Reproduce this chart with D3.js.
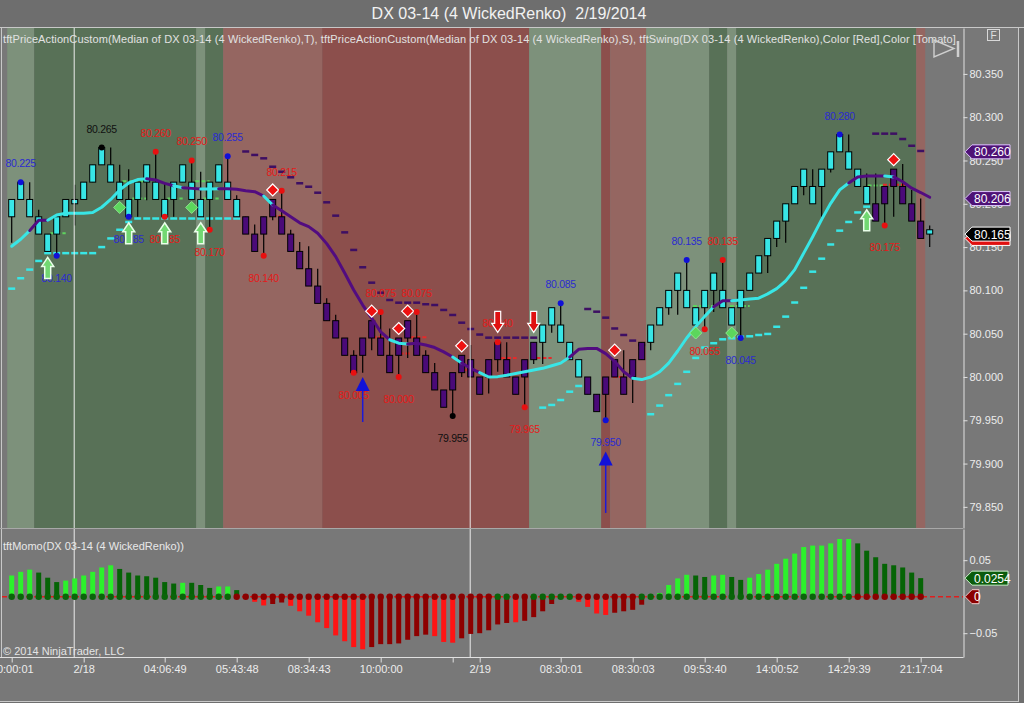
<!DOCTYPE html>
<meta charset="utf-8">
<html>

<head>
    <title>DX 03-14 (4 WickedRenko)</title>
    <style>
        body { margin: 0; background: #6e6e6e; }
        svg text { font-family: "Liberation Sans", Arial, sans-serif; }
    </style>
</head>

<body>
    <div id="container"></div>

    <script src="https://d3js.org/d3.v7.min.js"></script>

    <script>
        // ---- renko bricks (one entry per bar) ----
        const opens = [80.185, 80.205, 80.185, 80.165, 80.145, 80.165, 80.185, 80.200, 80.205, 80.225,
            80.245, 80.225, 80.205, 80.185, 80.205, 80.225, 80.205, 80.185, 80.205, 80.225,
            80.205, 80.185, 80.205, 80.225, 80.205, 80.185, 80.185, 80.165, 80.185, 80.205,
            80.185, 80.165, 80.145, 80.125, 80.105, 80.085, 80.065, 80.045, 80.025, 80.045,
            80.065, 80.045, 80.025, 80.045, 80.065, 80.045, 80.025, 80.005, 79.985, 80.005,
            80.025, 80.020, 80.000, 80.020, 80.040, 80.020, 80.000, 80.020, 80.040, 80.040,
            80.060, 80.040, 80.020, 80.000, 80.000, 79.980, 80.000, 80.020, 80.000, 80.020,
            80.040, 80.040, 80.060, 80.080, 80.100, 80.080, 80.060, 80.080, 80.100, 80.080,
            80.060, 80.080, 80.100, 80.120, 80.140, 80.160, 80.180, 80.200, 80.220, 80.200,
            80.220, 80.240, 80.260, 80.240, 80.220, 80.200, 80.200, 80.220, 80.240, 80.220,
            80.200, 80.180, 80.165];
        const closes = [80.205, 80.225, 80.205, 80.185, 80.165, 80.185, 80.205, 80.205, 80.225, 80.245,
            80.265, 80.245, 80.225, 80.205, 80.225, 80.245, 80.225, 80.205, 80.225, 80.245,
            80.225, 80.205, 80.225, 80.245, 80.225, 80.205, 80.165, 80.145, 80.165, 80.185,
            80.165, 80.145, 80.125, 80.105, 80.085, 80.065, 80.045, 80.025, 80.005, 80.025,
            80.045, 80.025, 80.005, 80.025, 80.045, 80.025, 80.005, 79.985, 79.965, 79.985,
            80.005, 80.000, 79.980, 80.000, 80.020, 80.000, 79.980, 80.000, 80.020, 80.060,
            80.080, 80.060, 80.040, 80.020, 79.980, 79.960, 79.980, 80.000, 79.980, 80.000,
            80.020, 80.060, 80.080, 80.100, 80.120, 80.100, 80.080, 80.100, 80.120, 80.100,
            80.080, 80.100, 80.120, 80.140, 80.160, 80.180, 80.200, 80.220, 80.240, 80.220,
            80.240, 80.260, 80.280, 80.260, 80.240, 80.220, 80.180, 80.200, 80.220, 80.200,
            80.180, 80.160, 80.170];
        const highs = [80.205, 80.225, 80.225, 80.193, 80.165, 80.185, 80.205, 80.222, 80.225, 80.245,
            80.265, 80.265, 80.245, 80.240, 80.225, 80.245, 80.260, 80.225, 80.225, 80.245,
            80.250, 80.237, 80.225, 80.245, 80.255, 80.210, 80.185, 80.176, 80.185, 80.205,
            80.215, 80.170, 80.156, 80.151, 80.125, 80.091, 80.072, 80.045, 80.031, 80.045,
            80.065, 80.075, 80.056, 80.045, 80.065, 80.075, 80.031, 80.016, 79.985, 80.005,
            80.025, 80.037, 80.000, 80.020, 80.040, 80.040, 80.000, 80.020, 80.040, 80.060,
            80.080, 80.085, 80.040, 80.020, 80.000, 79.980, 80.000, 80.020, 80.031, 80.020,
            80.040, 80.060, 80.080, 80.100, 80.120, 80.135, 80.080, 80.100, 80.120, 80.135,
            80.080, 80.100, 80.120, 80.140, 80.160, 80.180, 80.200, 80.220, 80.240, 80.240,
            80.240, 80.260, 80.280, 80.280, 80.240, 80.235, 80.235, 80.220, 80.240, 80.246,
            80.216, 80.206, 80.175];
        const lows = [80.155, 80.205, 80.185, 80.165, 80.145, 80.140, 80.185, 80.175, 80.205, 80.225,
            80.245, 80.225, 80.205, 80.185, 80.185, 80.204, 80.205, 80.185, 80.185, 80.225,
            80.205, 80.185, 80.170, 80.225, 80.205, 80.185, 80.165, 80.145, 80.140, 80.181,
            80.165, 80.145, 80.125, 80.105, 80.085, 80.065, 80.045, 80.025, 80.005, 80.005,
            80.031, 80.025, 80.005, 80.000, 80.022, 80.025, 80.005, 79.985, 79.965, 79.955,
            80.000, 80.000, 79.980, 79.981, 80.006, 80.000, 79.980, 79.965, 80.015, 80.015,
            80.051, 80.040, 80.020, 80.000, 79.980, 79.960, 79.950, 80.000, 79.980, 79.970,
            80.020, 80.031, 80.060, 80.072, 80.072, 80.080, 80.060, 80.055, 80.075, 80.080,
            80.060, 80.045, 80.100, 80.120, 80.120, 80.150, 80.155, 80.200, 80.210, 80.200,
            80.185, 80.236, 80.260, 80.240, 80.220, 80.200, 80.180, 80.175, 80.185, 80.200,
            80.180, 80.160, 80.150];

        // ---- moving average and its trend (1 rising / 0 falling) ----
        const maValues = [80.151, 80.159, 80.169, 80.181, 80.181, 80.187, 80.189, 80.189, 80.189, 80.190,
            80.196, 80.205, 80.216, 80.224, 80.228, 80.229, 80.2275, 80.2236, 80.2209, 80.2186,
            80.2178, 80.217, 80.217, 80.2175, 80.2175, 80.2167, 80.215, 80.214, 80.209, 80.1986,
            80.192, 80.185, 80.178, 80.1736, 80.166, 80.154, 80.139, 80.120, 80.1005, 80.083,
            80.068, 80.052, 80.043, 80.039, 80.038, 80.039, 80.037, 80.034, 80.029, 80.023,
            80.016, 80.010, 80.005, 80.000, 80.0004, 80.002, 80.004, 80.006, 80.008, 80.010,
            80.013, 80.016, 80.023, 80.032, 80.033, 80.033, 80.027, 80.018, 80.006, 79.9985,
            79.997, 80.000, 80.006, 80.016, 80.030, 80.045, 80.058, 80.070, 80.081, 80.088,
            80.088, 80.089, 80.090, 80.091, 80.096, 80.102, 80.111, 80.124, 80.143, 80.162,
            80.182, 80.2005, 80.216, 80.224, 80.231, 80.232, 80.232, 80.232, 80.231, 80.2255,
            80.218, 80.213, 80.2075];
        const maTrend = [1, 1, 1, 0, 0, 1, 1, 1, 1, 1,
            1, 1, 1, 1, 1, 1, 0, 0, 0, 1,
            0, 0, 1, 1, 0, 0, 0, 0, 0, 1,
            0, 0, 0, 0, 0, 0, 0, 0, 0, 0,
            0, 0, 0, 1, 1, 0, 0, 0, 0, 0,
            1, 0, 0, 1, 1, 1, 1, 1, 1, 1,
            1, 1, 1, 0, 0, 0, 0, 0, 0, 0,
            1, 1, 1, 1, 1, 1, 1, 1, 1, 0,
            0, 1, 1, 1, 1, 1, 1, 1, 1, 1,
            1, 1, 1, 1, 0, 0, 0, 0, 1, 0,
            0, 0, 0];

        // ---- trailing stops (null = not active) ----
        const stopLong = [80.102, 80.114, 80.124, 80.134, 80.143, 80.143, 80.143, 80.143, 80.143, 80.143,
            80.150, 80.160, 80.170, 80.179, 80.183, 80.183, 80.183, 80.183, 80.183, 80.183,
            80.183, 80.183, 80.183, 80.183, 80.183, 80.183, null, null, null, null,
            null, null, null, null, null, null, null, null, null, null,
            null, null, null, null, null, null, null, null, null, null,
            null, null, null, null, null, null, null, null, null, 79.9646,
            79.9677, 79.9734, 79.983, 79.9896, null, null, null, null, null, null,
            null, 79.957, 79.967, 79.979, 79.992, 80.006, 80.022, 80.034, 80.039, 80.0435,
            80.0447, 80.0465, 80.047, 80.0485, 80.0497, 80.058, 80.0697, 80.086, 80.103, 80.1216,
            80.1366, 80.153, 80.169, 80.179, 80.190, 80.1967, null, null, null, null,
            null, null, null];
        const stopShort = [null, null, null, null, null, null, null, null, null, null,
            null, null, null, null, null, null, null, null, null, null,
            null, null, null, null, null, null, 80.2604, 80.2564, 80.2525, 80.2428,
            80.237, 80.2306, 80.2237, 80.2197, 80.2128, 80.2017, 80.1863, 80.167, 80.1467, 80.1267,
            80.1089, 80.0973, 80.0889, 80.0858, 80.0858, 80.0858, 80.084, 80.0831, 80.0774, 80.0716,
            80.0627, 80.0554, 80.049, 80.0454, 80.0454, 80.0454, 80.0454, 80.0454, 80.0454, null,
            null, null, null, null, 80.0785, 80.0754, 80.0685, 80.056, 80.0485, 80.042,
            80.037, null, null, null, null, null, null, null, null, null,
            null, null, null, null, null, null, null, null, null, null,
            null, null, null, null, null, null, 80.281, 80.281, 80.281, 80.2748,
            80.267, 80.261, null];

        // ---- background trend zones: [firstBar, lastBar, state] ----
        const zoneRuns = [[0, 2, 1], [3, 20, 2], [21, 21, 1], [22, 23, 2], [24, 34, -1], [35, 57, -2],
            [58, 65, 1], [66, 66, -2], [67, 70, -1], [71, 77, 1], [78, 79, 2], [80, 80, 1],
            [81, 100, 2], [101, 101, -1]];

        // ---- swing points: [bar, price, "H"/"L", color] ----
        const swings = [[1, 80.225, "H", "blue"], [10, 80.265, "H", "black"], [16, 80.260, "H", "red"],
            [20, 80.250, "H", "red"], [24, 80.255, "H", "blue"], [5, 80.140, "L", "blue"],
            [13, 80.185, "L", "blue"], [17, 80.185, "L", "red"], [22, 80.170, "L", "red"],
            [28, 80.140, "L", "red"], [30, 80.215, "H", "red"], [38, 80.005, "L", "red"],
            [41, 80.075, "H", "red"], [43, 80.000, "L", "red"], [45, 80.075, "H", "red"],
            [49, 79.955, "L", "black"], [54, 80.040, "H", "red"], [57, 79.965, "L", "red"],
            [61, 80.085, "H", "blue"], [66, 79.950, "L", "blue"], [75, 80.135, "H", "blue"],
            [77, 80.055, "L", "red"], [79, 80.135, "H", "red"], [81, 80.045, "L", "blue"],
            [92, 80.280, "H", "blue"], [97, 80.175, "L", "red"]];

        // ---- price action signals (bar indices) ----
        const redDiamonds = [29, 40, 43, 44, 50, 67, 98];
        const greenDiamonds = [12, 20, 76, 80];
        const upArrows = [4, 13, 17, 21, 95];
        const downArrows = [54, 58];
        const bigSignals = [[39, 80.000, 79.948], [66, 79.914, 79.843]];

        // ---- short price action levels: [fromBar, toBar, price] ----
        const greenLevels = [[4.3, 6, 80.166], [12.3, 14.6, 80.226], [13.4, 15, 80.206], [17.3, 19, 80.206],
            [20.4, 22, 80.226], [21.3, 23, 80.206], [75.7, 77.9, 80.082], [79.8, 82, 80.082], [95.1, 96.8, 80.221]];
        const redLevels = [[29, 30.4, 80.186], [40.1, 41.5, 80.046], [43.1, 44.3, 80.027], [44.3, 46.1, 80.046],
            [50.1, 51.7, 80.008], [53.7, 56.1, 80.022], [58.3, 60, 80.022], [66.8, 67.9, 80.000], [96.8, 99.3, 80.222]];

        // ---- momentum panel ----
        const momo = [0.029, 0.034, 0.037, 0.033, 0.026, 0.020, 0.022, 0.025, 0.029, 0.034,
            0.040, 0.043, 0.038, 0.033, 0.029, 0.028, 0.026, 0.020, 0.018, 0.019,
            0.019, 0.016, 0.012, 0.014, 0.014, 0.009, -0.001, -0.007, -0.012, -0.010,
            -0.008, -0.0125, -0.020, -0.026, -0.035, -0.043, -0.053, -0.061, -0.069, -0.072,
            -0.069, -0.065, -0.065, -0.064, -0.059, -0.054, -0.052, -0.054, -0.062, -0.063,
            -0.057, -0.051, -0.050, -0.046, -0.038, -0.036, -0.035, -0.033, -0.028, -0.020,
            -0.010, 0.000, 0.000, -0.007, -0.014, -0.023, -0.025, -0.022, -0.020, -0.018,
            -0.011, 0.000, 0.005, 0.016, 0.025, 0.030, 0.029, 0.027, 0.029, 0.030,
            0.027, 0.023, 0.026, 0.031, 0.037, 0.045, 0.052, 0.059, 0.068, 0.070,
            0.070, 0.073, 0.079, 0.079, 0.073, 0.063, 0.054, 0.045, 0.043, 0.040,
            0.033, 0.0254];
        const momoStrong = [1, 1, 1, 0, 0, 0, 1, 1, 1, 1,
            1, 1, 0, 0, 0, 0, 0, 0, 0, 1,
            0, 0, 0, 1, 1, 0, 0, 1, 1, 0,
            0, 1, 1, 1, 1, 1, 1, 1, 1, 1,
            0, 0, 0, 0, 0, 0, 0, 1, 1, 1,
            0, 0, 0, 0, 0, 0, 1, 0, 0, 0,
            0, 0, 0, 1, 1, 1, 1, 0, 0, 0,
            0, 0, 1, 1, 1, 1, 0, 0, 1, 1,
            0, 0, 1, 1, 1, 1, 1, 1, 1, 1,
            1, 1, 1, 1, 0, 0, 0, 0, 0, 0,
            0, 0];
        const momoDots = [1, 1, 1, 1, 1, 1, 1, 1, 1, 1,
            1, 1, 1, 1, 1, 1, 1, 1, 1, 1,
            1, 1, 1, 1, 1, 0, 0, 0, 0, 0,
            0, 0, 0, 0, 0, 0, 0, 0, 0, 0,
            0, 0, 0, 0, 0, 0, 0, 0, 0, 0,
            0, 0, 0, 0, 1, 1, 0, 0, 1, 1,
            1, 1, 1, 0, 0, 0, 0, 0, 0, 0,
            1, 1, 1, 1, 1, 1, 1, 1, 1, 1,
            1, 1, 1, 1, 1, 1, 1, 1, 1, 1,
            1, 1, 1, 1, 0, 0, 0, 0, 0, 0,
            0, 0];

        // ---- axes ----
        const priceTicks = [80.35, 80.30, 80.25, 80.20, 80.15, 80.10, 80.05, 80.00, 79.95, 79.90, 79.85];
        const momoTicks = [0.05, -0.05];
        const timeTickBars = [0, 8, 17, 25, 33, 41, 49, 52, 61, 69, 77, 85, 93, 101];
        const timeTickLabels = ["00:00:01", "2/18", "04:06:49", "05:43:48", "08:34:43", "10:00:00", "",
            "2/19", "08:30:01", "08:30:03", "09:53:40", "14:00:52", "14:29:39", "21:17:04"];
        const sessionBreaks = [7, 51];

        // ---- right axis value markers ----
        const priceMarkers = [[80.260, "#4e1276", "#e0c8ff"], [80.206, "#4e1276", "#e0c8ff"]];
        const lastPrice = 80.165, lastClose = 80.160;
        const momoMarker = 0.0254;

        /**
         * builds the whole chart as an svg node
         */
        function constructChart() {
            const width = 1024, height = 703;
            const main = { left: 2, right: 963, top: 28, bottom: 528 },
                low = { top: 529, bottom: 657 };

            const cyan = "#38e6e6", purple = "#4a0a78", dashPurple = "#3e0f63";
            const zoneColor = { "2": "#587157", "1": "#7d917b", "-1": "#956661", "-2": "#8c4f4c" };
            const swingColor = { blue: "#1010d8", red: "#e81010", black: "#000000" };
            const swingText = { blue: "#2b2bd0", red: "#e41a1a", black: "#101010" };

            const x = d3.scaleLinear().domain([0, 102]).range([11.7, 929.7]);
            const y = d3.scaleLinear().domain([79.8256, 80.403]).range([main.bottom, main.top]);
            const ym = d3.scaleLinear().domain([-0.0826, 0.0927]).range([low.bottom, low.top]);
            const half = (x(1) - x(0)) / 2;

            const svg = d3.create("svg")
                .attr("width", width)
                .attr("height", height)
                .attr("viewBox", [0, 0, width, height]);

            // window and panel backgrounds
            svg.append("rect").attr("width", width).attr("height", height).attr("fill", "#6e6e6e");
            svg.append("rect").attr("x", 0).attr("y", 27).attr("width", 1019).attr("height", 675)
                .attr("fill", "#787878");

            // title
            svg.append("text")
                .attr("x", 509).attr("y", 19)
                .attr("text-anchor", "middle")
                .attr("fill", "#f2f2f2")
                .attr("font-size", 16)
                .style("white-space", "pre")
                .text("DX 03-14 (4 WickedRenko)  2/19/2014");

            const defs = svg.append("defs");
            defs.append("clipPath").attr("id", "clipMain").append("rect")
                .attr("x", main.left).attr("y", main.top)
                .attr("width", main.right - main.left).attr("height", main.bottom - main.top);
            defs.append("clipPath").attr("id", "clipLow").append("rect")
                .attr("x", main.left).attr("y", low.top)
                .attr("width", main.right - main.left).attr("height", low.bottom - low.top);

            const gMain = svg.append("g").attr("clip-path", "url(#clipMain)");

            // trend zones
            gMain.append("g")
                .selectAll("rect")
                .data(zoneRuns)
                .join("rect")
                .attr("x", d => x(d[0]) - half)
                .attr("width", d => x(d[1]) - x(d[0]) + 2 * half)
                .attr("y", main.top)
                .attr("height", main.bottom - main.top)
                .attr("fill", d => zoneColor[d[2]]);

            // session separators
            svg.append("g")
                .selectAll("line")
                .data(sessionBreaks)
                .join("line")
                .attr("x1", d => x(d) - 0.5).attr("x2", d => x(d) - 0.5)
                .attr("y1", main.top).attr("y2", low.bottom)
                .attr("stroke", "#ececec").attr("stroke-width", 1);

            // indicator caption (stretched across the panel like the original)
            svg.append("text")
                .attr("x", 3).attr("y", 43)
                .attr("fill", "#e2e2e2")
                .attr("font-size", 11)
                .attr("textLength", 956)
                .attr("lengthAdjust", "spacing")
                .text("tftPriceActionCustom(Median of DX 03-14 (4 WickedRenko),T), tftPriceActionCustom(Median of DX 03-14 (4 WickedRenko),S), tftSwing(DX 03-14 (4 WickedRenko),Color [Red],Color [Tomato],");

            // trailing stop dashes
            const dashes = (vals, color) => gMain.append("g")
                .selectAll("line")
                .data(vals.map((v, i) => [i, v]).filter(d => d[1] !== null))
                .join("line")
                .attr("x1", d => x(d[0]) - 3.5).attr("x2", d => x(d[0]) + 3.5)
                .attr("y1", d => y(d[1])).attr("y2", d => y(d[1]))
                .attr("stroke", color).attr("stroke-width", 2.5);
            dashes(stopLong, cyan);
            dashes(stopShort, dashPurple);

            // short price action levels
            const levels = (vals, color) => gMain.append("g")
                .selectAll("line")
                .data(vals)
                .join("line")
                .attr("x1", d => x(d[0])).attr("x2", d => x(d[1]))
                .attr("y1", d => y(d[2])).attr("y2", d => y(d[2]))
                .attr("stroke", color).attr("stroke-width", 2)
                .attr("stroke-dasharray", "4,2");
            levels(greenLevels, "#5fd35f");
            levels(redLevels, "#e62a2a");

            // candles
            const bars = d3.range(opens.length);
            const gBars = gMain.append("g");
            gBars.selectAll("line")
                .data(bars)
                .join("line")
                .attr("x1", i => x(i)).attr("x2", i => x(i))
                .attr("y1", i => y(highs[i])).attr("y2", i => y(lows[i]))
                .attr("stroke", "#000").attr("stroke-width", 1.2);
            gBars.selectAll("rect")
                .data(bars)
                .join("rect")
                .attr("x", i => x(i) - 3)
                .attr("width", 6)
                .attr("y", i => y(Math.max(opens[i], closes[i])))
                .attr("height", i => Math.abs(y(opens[i]) - y(closes[i])))
                .attr("fill", i => closes[i] >= opens[i] ? cyan : purple)
                .attr("stroke", "#000").attr("stroke-width", 1);

            // moving average, split into coloured runs
            const runs = [];
            for (let i = 1; i < maValues.length; i++) {
                const last = runs[runs.length - 1];
                if (last && last.trend === maTrend[i]) last.pts.push(i);
                else runs.push({ trend: maTrend[i], pts: [i - 1, i] });
            }
            const maLine = d3.line().x(i => x(i)).y(i => y(maValues[i]));
            gMain.append("g")
                .selectAll("path")
                .data(runs)
                .join("path")
                .attr("d", d => maLine(d.pts))
                .attr("fill", "none")
                .attr("stroke", d => d.trend ? cyan : "#520c80")
                .attr("stroke-width", 3)
                .attr("stroke-linecap", "round")
                .attr("stroke-linejoin", "round");

            // diamonds
            const diamond = (cx, cy, r) => `M${cx},${cy - r}L${cx + r},${cy}L${cx},${cy + r}L${cx - r},${cy}Z`;
            gMain.append("g")
                .selectAll("path")
                .data(redDiamonds)
                .join("path")
                .attr("d", i => diamond(x(i), y(Math.max(opens[i], closes[i])) - 9.5, 6))
                .attr("fill", "#ee1111").attr("stroke", "#ffffff").attr("stroke-width", 1.2);
            gMain.append("g")
                .selectAll("path")
                .data(greenDiamonds)
                .join("path")
                .attr("d", i => diamond(x(i), y(Math.min(opens[i], closes[i])) + 8, 6))
                .attr("fill", "#5cd65c").attr("stroke", "#8fe88f").attr("stroke-width", 1);

            // swing dots and labels
            const gSwing = gMain.append("g");
            gSwing.selectAll("circle")
                .data(swings)
                .join("circle")
                .attr("cx", d => x(d[0])).attr("cy", d => y(d[1]))
                .attr("r", 3)
                .attr("fill", d => swingColor[d[3]]);
            gSwing.selectAll("text")
                .data(swings)
                .join("text")
                .attr("x", d => x(d[0]))
                .attr("y", d => y(d[1]) + (d[2] === "H" ? -15 : 26))
                .attr("text-anchor", "middle")
                .attr("font-size", 10.5)
                .attr("letter-spacing", -0.3)
                .attr("fill", d => swingText[d[3]])
                .text(d => d[1].toFixed(3));

            // up arrows (hollow green) and down arrows (red)
            const upArrow = (cx, ty) => `M${cx},${ty}L${cx + 6},${ty + 9}L${cx + 3},${ty + 9}L${cx + 3},${ty + 21}` +
                `L${cx - 3},${ty + 21}L${cx - 3},${ty + 9}L${cx - 6},${ty + 9}Z`;
            const downArrow = (cx, by) => `M${cx},${by}L${cx + 6},${by - 9}L${cx + 3},${by - 9}L${cx + 3},${by - 21}` +
                `L${cx - 3},${by - 21}L${cx - 3},${by - 9}L${cx - 6},${by - 9}Z`;
            gMain.append("g")
                .selectAll("path")
                .data(upArrows)
                .join("path")
                .attr("d", i => upArrow(x(i), y(Math.min(opens[i], closes[i])) + 6))
                .attr("fill", "#72d872").attr("stroke", "#eaffea").attr("stroke-width", 1.5);
            gMain.append("g")
                .selectAll("path")
                .data(downArrows)
                .join("path")
                .attr("d", i => downArrow(x(i), y(Math.max(opens[i], closes[i])) - 10))
                .attr("fill", "#e01010").attr("stroke", "#ffffff").attr("stroke-width", 1.2);

            // big signals: triangle with a tail
            const gSig = gMain.append("g");
            gSig.selectAll("line")
                .data(bigSignals)
                .join("line")
                .attr("x1", d => x(d[0])).attr("x2", d => x(d[0]))
                .attr("y1", d => y(d[1]) + 12).attr("y2", d => y(d[2]))
                .attr("stroke", "#1a1ad8").attr("stroke-width", 1.5);
            gSig.selectAll("path")
                .data(bigSignals)
                .join("path")
                .attr("d", d => {
                    const cx = x(d[0]), ty = y(d[1]);
                    return `M${cx},${ty}L${cx + 7},${ty + 14}L${cx - 7},${ty + 14}Z`;
                })
                .attr("fill", "#1212d8");

            // play-to-end glyph
            svg.append("path")
                .attr("d", "M934,40L954,48.5L934,57Z")
                .attr("fill", "none").attr("stroke", "#cfcfcf").attr("stroke-width", 1.4);
            svg.append("line")
                .attr("x1", 958).attr("x2", 958).attr("y1", 41).attr("y2", 57)
                .attr("stroke", "#cfcfcf").attr("stroke-width", 2.5);

            // "F" button
            svg.append("rect")
                .attr("x", 987.5).attr("y", 29.5).attr("width", 12).attr("height", 11)
                .attr("fill", "none").attr("stroke", "#d8d8d8");
            svg.append("text")
                .attr("x", 993.5).attr("y", 39).attr("text-anchor", "middle")
                .attr("font-size", 10).attr("fill", "#e0e0e0").text("F");

            // ---- momentum panel ----
            const gLow = svg.append("g").attr("clip-path", "url(#clipLow)");
            const momoBars = d3.range(momo.length);
            gLow.append("g")
                .selectAll("rect")
                .data(momoBars)
                .join("rect")
                .attr("x", i => x(i) - 2.5)
                .attr("width", 5)
                .attr("y", i => Math.min(ym(0), ym(momo[i])))
                .attr("height", i => Math.abs(ym(momo[i]) - ym(0)))
                .attr("fill", i => momo[i] >= 0
                    ? (momoStrong[i] ? "#2cf22c" : "#056405")
                    : (momoStrong[i] ? "#ff1414" : "#8e0000"));
            gLow.append("line")
                .attr("x1", main.left).attr("x2", main.right)
                .attr("y1", ym(0)).attr("y2", ym(0))
                .attr("stroke", "#e01e1e").attr("stroke-width", 1.5)
                .attr("stroke-dasharray", "5,3");
            gLow.append("g")
                .selectAll("circle")
                .data(momoBars)
                .join("circle")
                .attr("cx", i => x(i)).attr("cy", ym(0))
                .attr("r", 3.2)
                .attr("fill", i => momoDots[i] ? "#0a640a" : "#8a0000");

            svg.append("text")
                .attr("x", 3).attr("y", 550)
                .attr("fill", "#e8e8e8").attr("font-size", 11)
                .text("tftMomo(DX 03-14 (4 WickedRenko))");
            svg.append("text")
                .attr("x", 3).attr("y", 655)
                .attr("fill", "#e4e4e4").attr("font-size", 11)
                .text("© 2014 NinjaTrader, LLC");

            // ---- frame lines ----
            const frame = svg.append("g").attr("stroke", "#c8c8c8").attr("stroke-width", 1);
            frame.append("line").attr("x1", 0).attr("x2", 1024).attr("y1", 27.5).attr("y2", 27.5);
            frame.append("line").attr("x1", 1.5).attr("x2", 1.5).attr("y1", 27.5).attr("y2", low.bottom);
            frame.append("line").attr("x1", 0).attr("x2", main.right).attr("y1", 528.5).attr("y2", 528.5)
                .attr("stroke", "#a8a8a8");
            frame.append("line").attr("x1", 1018.5).attr("x2", 1018.5).attr("y1", 27.5).attr("y2", 701.5);
            frame.append("line").attr("x1", 0).attr("x2", 1019).attr("y1", 701.5).attr("y2", 701.5);

            // ---- axes ----
            const styleAxis = g => {
                g.selectAll(".domain").attr("stroke", "#e0e0e0");
                g.selectAll(".tick line").attr("stroke", "#e0e0e0");
                g.selectAll(".tick text").attr("fill", "#ececec").attr("font-size", 11)
                    .attr("font-family", "Liberation Sans, Arial, sans-serif");
            };
            svg.append("g")
                .attr("transform", `translate(${main.right + 0.5},0)`)
                .call(d3.axisRight(y).tickValues(priceTicks).tickSize(4).tickSizeOuter(0)
                    .tickPadding(2).tickFormat(d3.format(".3f")))
                .call(styleAxis);
            svg.append("g")
                .attr("transform", `translate(${main.right + 0.5},0)`)
                .call(d3.axisRight(ym).tickValues(momoTicks).tickSize(4).tickSizeOuter(0)
                    .tickPadding(2).tickFormat(d3.format(".2f")))
                .call(styleAxis);
            svg.append("g")
                .attr("transform", `translate(0,${low.bottom + 0.5})`)
                .call(d3.axisBottom(x).tickValues(timeTickBars).tickSize(5).tickSizeOuter(0)
                    .tickPadding(3).tickFormat((d, i) => timeTickLabels[i]))
                .call(styleAxis)
                .call(g => g.select(".domain").attr("d", `M0,0H${main.right + 0.5}`));

            // right axis value boxes
            const tag = (g, yc, fill, stroke, label, w) => {
                const x0 = main.right + 2;
                g.append("path")
                    .attr("d", `M${x0},${yc}L${x0 + 7},${yc - 7}L${x0 + w},${yc - 7}L${x0 + w},${yc + 7}L${x0 + 7},${yc + 7}Z`)
                    .attr("fill", fill).attr("stroke", stroke).attr("stroke-width", 1);
                if (label !== null) {
                    g.append("text")
                        .attr("x", x0 + 9).attr("y", yc + 4.5)
                        .attr("fill", "#ffffff").attr("font-size", 12)
                        .text(label);
                }
            };
            const gTags = svg.append("g");
            priceMarkers.forEach(m => tag(gTags, y(m[0]), m[1], m[2], m[0].toFixed(3), 45));
            tag(gTags, y(lastClose), "#e01010", "#ffffff", null, 45);
            tag(gTags, y(lastPrice), "#000000", "#ffffff", lastPrice.toFixed(3), 45);
            tag(gTags, ym(momoMarker), "#0c5c0c", "#c8f0c8", momoMarker.toFixed(4), 43);
            tag(gTags, ym(0), "#8a0000", "#f0c8c8", "0", 14);

            return svg.node();
        }

        document.querySelector("#container").appendChild(constructChart());
    </script>
</body>

</html>
